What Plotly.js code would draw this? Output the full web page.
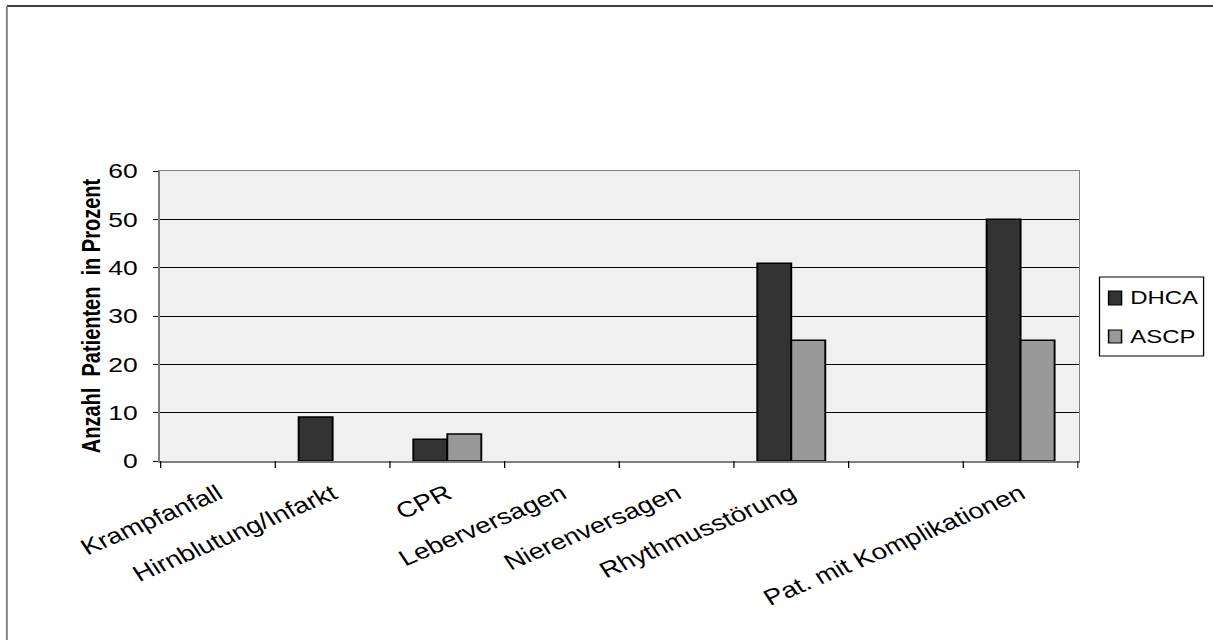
<!DOCTYPE html>
<html>
<head>
<meta charset="utf-8">
<script src="https://cdn.plot.ly/plotly-3.0.1.min.js"></script>
<style>
html,body{margin:0;padding:0;background:#fff;overflow:hidden;}
#wrap{width:1213px;height:640px;overflow:hidden;}
#chart{width:963px;height:640px;transform:scaleX(1.26);transform-origin:0 0;}
</style>
</head>
<body>
<div id="wrap"><div id="chart"></div></div>
<script>
const categories = ["Krampfanfall", "Hirnblutung/Infarkt", "CPR", "Leberversagen", "Nierenversagen", "Rhythmusstörung", " ", "Pat. mit Komplikationen"];
const dhca = [0, 9.1, 4.5, 0, 0, 40.9, 0, 50];
const ascp = [0, 0, 5.6, 0, 0, 25, 0, 25];
const yTicks = [0, 10, 20, 30, 40, 50, 60];
const seriesNames = ["DHCA", "ASCP"];
const seriesColors = ["#333333", "#999999"];
const yTitle = "Anzahl\u00a0 Patienten\u00a0 in Prozent";

const FONT = '"Liberation Sans", Arial, sans-serif';

function outline(vals){ return vals.map(v => v > 0 ? 1.5 : 0); }

const traces = [
  {type:'bar', name:seriesNames[0], x:categories, y:dhca, showlegend:false,
   marker:{color:seriesColors[0], line:{color:'#000000', width:outline(dhca)}}},
  {type:'bar', name:seriesNames[1], x:categories, y:ascp, showlegend:false,
   marker:{color:seriesColors[1], line:{color:'#000000', width:outline(ascp)}}}
];

// legend drawn as box + swatches + labels (paper coordinates)
const legendBox = {type:'rect', xref:'paper', yref:'paper', x0:1.0228, x1:1.1361, y0:0.362, y1:0.6345,
  line:{color:'#000000', width:1}, fillcolor:'#ffffff', layer:'above'};
const swatchY = [[0.5379, 0.5862], [0.4069, 0.4517]];
const labelY = [0.5621, 0.4293];
const extraShapes = [legendBox];
const legendAnn = [];
seriesNames.forEach((n, i) => {
  extraShapes.push({type:'rect', xref:'paper', yref:'paper', x0:1.0327, x1:1.0468,
    y0:swatchY[i][0], y1:swatchY[i][1], fillcolor:seriesColors[i],
    line:{color:'#000000', width:1.2}, layer:'above'});
  legendAnn.push({xref:'paper', yref:'paper', x:1.0554, y:labelY[i], xanchor:'left', yanchor:'middle',
    text:n, showarrow:false, font:{size:19, family:FONT, color:'#000'}, borderpad:0});
});
// visible category-boundary tick marks
for (let i = 0; i <= categories.length; i++) {
  extraShapes.push({type:'line', xref:'x', yref:'paper', x0:i - 0.5, x1:i - 0.5, y0:0, y1:-7/290,
    line:{color:'#000000', width:1}});
}

const layout = {
  width:963, height:640,
  margin:{l:127, r:107, t:171, b:179, pad:0},
  paper_bgcolor:'#ffffff', plot_bgcolor:'#f0f0f0',
  font:{family:FONT, color:'#000000'},
  barmode:'group', bargap:0.407, bargroupgap:0,
  showlegend:false,
  xaxis:{type:'category', tickangle:-28,
         ticks:'outside', ticklen:10, tickcolor:'rgba(255,255,255,0)', tickwidth:1,
         showline:true, linecolor:'#808080', linewidth:1.5, mirror:true,
         showgrid:false,
         tickfont:{size:22, family:FONT, color:'#000'},
         fixedrange:true},
  yaxis:{range:[0,60], tickvals:yTicks, ticks:'outside', ticklen:4,
         tickcolor:'#000', tickwidth:1, showline:true, linecolor:'#808080',
         linewidth:1.5, mirror:true, showgrid:true, gridcolor:'#000000',
         gridwidth:1, zeroline:false, ticklabelstandoff:8,
         tickfont:{size:21, family:FONT, color:'#000'},
         title:{text:yTitle, standoff:0, font:{size:20, family:FONT, color:'#000', weight:'bold'}},
         fixedrange:true},
  shapes:[
    {type:'line', xref:'paper', yref:'paper', x0:-0.1667, x1:1.3, y0:1.569, y1:1.569,
     line:{color:'#000000', width:1.5}},
    {type:'line', xref:'paper', yref:'paper', x0:-0.1667, x1:-0.1667, y0:1.569, y1:-0.7,
     line:{color:'#808080', width:1.5}}
  ].concat(extraShapes),
  annotations:legendAnn
};

Plotly.newPlot('chart', traces, layout, {displayModeBar:false, staticPlot:true});
</script>
</body>
</html>
